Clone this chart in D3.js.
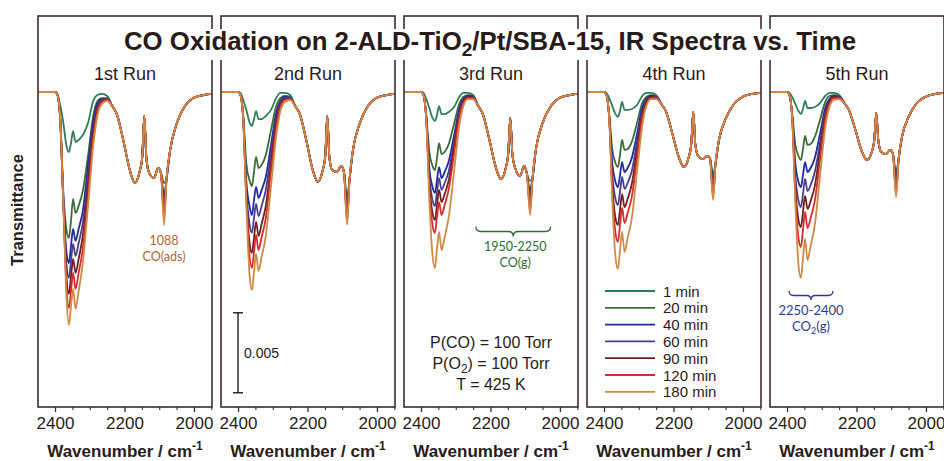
<!DOCTYPE html>
<html><head><meta charset="utf-8">
<script src="https://cdn.jsdelivr.net/npm/d3@7/dist/d3.min.js"></script>
<style>body{margin:0;background:#fff}svg{display:block}</style>
</head><body><svg id="c" width="944" height="461"></svg>
<script>
// ---------------- DATA (transmittance change, units of 1e-3) ----------------
const timeLabels = ["1 min", "20 min", "40 min", "60 min", "90 min", "120 min", "180 min"];
const runLabels = ["1st Run", "2nd Run", "3rd Run", "4th Run", "5th Run"];
const majorTicks = [2400, 2200, 2000];
const minorTicks = [2450, 2350, 2300, 2250, 2150, 2100, 2050, 1950];

// CO2(g) region wavenumbers (cm-1)
const wnCO2 = [2449, 2400, 2393, 2385, 2376, 2367, 2360, 2354, 2348, 2341, 2332, 2320, 2305, 2290, 2278, 2265, 2250];
// CO region wavenumbers shared by all times of a run
const wnCO = [2235, 2222, 2203, 2184, 2170, 2156, 2149, 2143, 2137, 2129, 2115, 2103, 2095, 2079, 2069, 2050, 2026, 2002, 1973, 1948];
// adsorbed CO band position
const wnDip = 2086;

const run1CO2 = [
  [0, 0, -0.12, -0.81, -1.94, -3.38, -3.75, -3.19, -2.44, -3.12, -3.0, -2.69, -1.94, -0.56, -0.19, -0.12, -0.25],
  [0, 0, -0.19, -1.69, -6.25, -8.62, -9.12, -8.06, -6.69, -7.56, -7.12, -6.19, -4.0, -1.5, -0.56, -0.38, -0.38],
  [0, 0, -0.19, -1.69, -6.75, -10.0, -10.69, -9.62, -8.56, -9.31, -8.56, -7.44, -4.62, -1.81, -0.75, -0.44, -0.44],
  [0, 0, -0.19, -1.69, -6.88, -10.75, -11.62, -10.56, -9.5, -10.25, -9.44, -8.19, -5.25, -2.19, -0.94, -0.5, -0.44],
  [0, 0, -0.19, -1.69, -7.0, -11.56, -12.62, -11.56, -10.44, -11.31, -10.44, -9.0, -5.88, -2.56, -1.12, -0.56, -0.5],
  [0, 0, -0.19, -1.69, -7.0, -12.19, -13.5, -12.44, -11.31, -12.31, -11.31, -9.81, -6.5, -2.94, -1.25, -0.62, -0.5],
  [0, 0, -0.19, -1.69, -7.0, -12.81, -14.56, -13.38, -12.31, -13.56, -12.44, -10.69, -7.12, -3.38, -1.5, -0.75, -0.56]
];
const run1CO = [-0.88, -1.38, -3.06, -4.94, -5.69, -4.94, -4.12, -1.5, -4.12, -5.06, -5.38, -4.75, -5.06, -5.44, -3.69, -2.0, -0.88, -0.38, -0.19, -0.12];
const run1Dip = [-5.69, -6.5, -7.0, -7.31, -7.56, -7.94, -8.31];

const run2CO2 = [
  [0, 0, -0.06, -0.5, -1.12, -1.88, -2.12, -1.69, -1.19, -1.69, -1.69, -1.5, -1.12, -0.38, -0.06, -0.06, -0.19],
  [0, 0, -0.19, -1.5, -4.5, -5.5, -5.88, -5.0, -4.06, -4.75, -4.56, -3.94, -2.38, -0.88, -0.38, -0.25, -0.31],
  [0, 0, -0.19, -1.56, -5.62, -7.12, -7.69, -6.75, -5.94, -6.62, -6.12, -5.31, -3.31, -1.31, -0.56, -0.31, -0.38],
  [0, 0, -0.19, -1.62, -6.12, -8.25, -8.81, -7.88, -7.0, -7.75, -7.12, -6.12, -3.88, -1.62, -0.69, -0.38, -0.38],
  [0, 0, -0.19, -1.69, -6.5, -9.38, -10.06, -9.12, -8.12, -9.0, -8.25, -7.12, -4.5, -1.94, -0.81, -0.44, -0.44],
  [0, 0, -0.19, -1.69, -6.75, -10.19, -11.0, -10.0, -8.94, -9.88, -9.06, -7.88, -5.0, -2.25, -0.94, -0.5, -0.44],
  [0, 0, -0.19, -1.69, -7.0, -11.38, -12.38, -11.25, -10.12, -11.19, -10.31, -9.0, -5.88, -2.75, -1.19, -0.62, -0.5]
];
const run2CO = [-0.88, -1.38, -3.06, -4.94, -5.62, -4.88, -4.06, -1.5, -4.06, -4.88, -5.0, -4.62, -5.0, -5.5, -3.62, -2.0, -0.88, -0.38, -0.19, -0.12];
const run2Dip = [-6.62, -7.0, -7.38, -7.62, -7.88, -8.12, -8.31];

const run3CO2 = [
  [0, 0, -0.06, -0.44, -1.0, -1.62, -1.81, -1.44, -0.88, -1.38, -1.38, -1.25, -0.94, -0.31, -0.06, -0.06, -0.19],
  [0, 0, -0.19, -1.44, -3.75, -4.62, -4.88, -4.12, -3.19, -3.88, -3.75, -3.25, -2.0, -0.75, -0.31, -0.19, -0.25],
  [0, 0, -0.19, -1.5, -4.75, -5.94, -6.31, -5.5, -4.69, -5.38, -5.0, -4.31, -2.75, -1.06, -0.44, -0.25, -0.31],
  [0, 0, -0.19, -1.56, -5.25, -6.75, -7.12, -6.25, -5.38, -6.12, -5.69, -4.94, -3.12, -1.25, -0.56, -0.31, -0.31],
  [0, 0, -0.19, -1.62, -5.75, -7.56, -8.0, -7.06, -6.12, -6.88, -6.38, -5.5, -3.5, -1.44, -0.62, -0.31, -0.38],
  [0, 0, -0.19, -1.62, -6.12, -8.31, -8.81, -7.81, -6.88, -7.69, -7.06, -6.06, -3.88, -1.62, -0.69, -0.38, -0.38],
  [0, 0, -0.19, -1.69, -6.75, -10.19, -11.0, -9.81, -8.75, -9.88, -9.06, -7.81, -5.0, -2.12, -0.88, -0.44, -0.44]
];
const run3CO = [-0.88, -1.38, -3.0, -4.75, -5.44, -4.75, -3.88, -1.62, -3.88, -4.75, -5.25, -4.62, -5.12, -5.38, -3.56, -1.94, -0.88, -0.38, -0.19, -0.12];
const run3Dip = [-5.56, -6.12, -6.56, -6.88, -7.12, -7.44, -7.69];

const run4CO2 = [
  [0, 0, -0.06, -0.38, -0.88, -1.38, -1.56, -1.19, -0.62, -1.12, -1.12, -1.06, -0.81, -0.25, -0.06, -0.06, -0.19],
  [0, 0, -0.19, -1.44, -3.62, -4.44, -4.69, -3.94, -3.0, -3.62, -3.56, -3.12, -1.94, -0.69, -0.31, -0.19, -0.25],
  [0, 0, -0.19, -1.5, -4.5, -5.62, -5.94, -5.19, -4.38, -5.0, -4.75, -4.12, -2.62, -1.0, -0.44, -0.25, -0.31],
  [0, 0, -0.19, -1.56, -5.19, -6.69, -7.06, -6.25, -5.31, -6.06, -5.69, -4.94, -3.12, -1.25, -0.56, -0.31, -0.31],
  [0, 0, -0.19, -1.62, -5.88, -7.88, -8.31, -7.38, -6.38, -7.19, -6.69, -5.75, -3.62, -1.44, -0.62, -0.31, -0.38],
  [0, 0, -0.19, -1.62, -6.38, -8.81, -9.38, -8.31, -7.25, -8.19, -7.56, -6.56, -4.12, -1.69, -0.75, -0.38, -0.38],
  [0, 0, -0.19, -1.69, -6.88, -10.31, -11.06, -9.88, -8.75, -10.0, -9.12, -7.88, -5.0, -2.12, -0.88, -0.44, -0.44]
];
const run4CO = [-0.75, -1.19, -2.62, -4.12, -4.69, -4.06, -3.31, -1.25, -3.31, -4.0, -4.19, -4.0, -4.12, -4.5, -3.0, -1.69, -0.75, -0.31, -0.12, -0.06];
const run4Dip = [-5.12, -5.5, -5.88, -6.12, -6.38, -6.56, -6.75];

const run5CO2 = [
  [0, 0, -0.06, -0.31, -0.75, -1.19, -1.38, -1.06, -0.56, -1.0, -1.0, -0.94, -0.69, -0.25, -0.06, -0.06, -0.19],
  [0, 0, -0.19, -1.38, -3.31, -4.0, -4.25, -3.56, -2.75, -3.31, -3.25, -2.81, -1.75, -0.62, -0.25, -0.19, -0.25],
  [0, 0, -0.19, -1.5, -4.5, -5.62, -5.94, -5.19, -4.38, -5.0, -4.75, -4.12, -2.62, -1.0, -0.44, -0.25, -0.31],
  [0, 0, -0.19, -1.56, -5.25, -6.81, -7.19, -6.38, -5.44, -6.19, -5.81, -5.0, -3.19, -1.25, -0.56, -0.31, -0.31],
  [0, 0, -0.19, -1.62, -6.0, -8.0, -8.44, -7.5, -6.5, -7.31, -6.81, -5.88, -3.69, -1.5, -0.62, -0.31, -0.38],
  [0, 0, -0.19, -1.62, -6.5, -9.12, -9.69, -8.62, -7.5, -8.5, -7.88, -6.81, -4.25, -1.75, -0.75, -0.38, -0.38],
  [0, 0, -0.19, -1.69, -7.0, -10.81, -11.62, -10.38, -9.19, -10.5, -9.62, -8.31, -5.25, -2.25, -0.94, -0.5, -0.44]
];
const run5CO = [-0.69, -1.12, -2.38, -3.75, -4.25, -3.75, -3.06, -1.31, -3.06, -3.75, -3.88, -3.62, -3.88, -4.25, -2.81, -1.56, -0.69, -0.31, -0.12, -0.06];
const run5Dip = [-5.0, -5.38, -5.69, -5.94, -6.19, -6.38, -6.56];

// scale bar (5e-3) and annotation ranges, in data units
const scaleBarRange = [-13.8, -18.8];
const coGasRange = [2242, 2027];
const co2GasRange = [2394, 2268];

// ---------------- STYLE / LAYOUT ----------------
const seriesColors = ["#2f7d57", "#3b6b36", "#1f2c9e", "#4e3d8c", "#6e1f22", "#d42c2c", "#cf8a45"];
const ink = "#2a1b1b";
const frameColor = "#3e2c2c";
const FONT = "'Liberation Sans', Arial, Helvetica, sans-serif";
const NOTE_FONT = "Lato, 'Open Sans', sans-serif";

const runs = [
  {co2: run1CO2, co: run1CO, dip: run1Dip},
  {co2: run2CO2, co: run2CO, dip: run2Dip},
  {co2: run3CO2, co: run3CO, dip: run3Dip},
  {co2: run4CO2, co: run4CO, dip: run4Dip},
  {co2: run5CO2, co: run5CO, dip: run5Dip}
];

const svg = d3.select("#c");
const panelX0 = 38, panelStep = 183, panelW = 174, yTop = 16, yBottom = 407;

const x = d3.scaleLinear().domain([2449, 1948]).range([0, panelW]);
const y = d3.scaleLinear().domain([-19.69, 4.75]).range([yBottom, yTop]);

const line = d3.line().x(d => x(d.w)).y(d => y(d.v)).curve(d3.curveMonotoneX);

const defs = svg.append("defs");

runs.forEach((run, r) => {
  const g = svg.append("g").attr("transform", `translate(${panelX0 + r * panelStep},0)`);
  defs.append("clipPath").attr("id", "clip" + r)
    .append("rect").attr("x", 0).attr("y", yTop).attr("width", panelW).attr("height", yBottom - yTop);

  const cg = g.append("g").attr("clip-path", `url(#clip${r})`);
  timeLabels.forEach((t, i) => {
    const pts = wnCO2.map((w, j) => ({w, v: run.co2[i][j]}))
      .concat(wnCO.map((w, j) => ({w, v: run.co[j]})))
      .concat([{w: wnDip, v: run.dip[i]}])
      .sort((a, b) => b.w - a.w);
    cg.append("path").attr("d", line(pts))
      .attr("fill", "none").attr("stroke", seriesColors[i])
      .attr("stroke-width", 1.8).attr("stroke-linejoin", "round");
  });

  // frame
  g.append("rect").attr("x", 0).attr("y", yTop).attr("width", panelW).attr("height", yBottom - yTop)
    .attr("fill", "none").attr("stroke", frameColor).attr("stroke-width", 1.6);

  // axes
  const ax = g.append("g").attr("transform", `translate(0,${yBottom})`)
    .call(d3.axisBottom(x).tickValues(majorTicks).tickSize(5).tickPadding(5).tickFormat(d3.format("d")));
  ax.select(".domain").remove();
  ax.selectAll("line").attr("stroke", frameColor).attr("stroke-width", 1.3);
  ax.selectAll("text").attr("font-family", FONT).attr("font-size", 17).attr("fill", ink);
  const mx = g.append("g").attr("transform", `translate(0,${yBottom})`)
    .call(d3.axisBottom(x).tickValues(minorTicks.filter(v => v <= 2449 && v >= 1948)).tickSize(3).tickFormat(""));
  mx.select(".domain").remove();
  mx.selectAll("line").attr("stroke", frameColor).attr("stroke-width", 1.1);

  // axis title
  const at = g.append("text").attr("x", panelW / 2).attr("y", 457).attr("text-anchor", "middle")
    .attr("font-family", FONT).attr("font-weight", "bold").attr("font-size", 17).attr("fill", ink);
  at.append("tspan").text("Wavenumber / cm");
  at.append("tspan").attr("dy", -7).attr("font-size", 12).text("-1");

  // run label
  g.append("text").attr("x", panelW / 2).attr("y", 80).attr("text-anchor", "middle")
    .attr("font-family", FONT).attr("font-size", 18).attr("fill", ink).text(runLabels[r]);
});

// title with white backing (interrupts frames)
const titleBack = svg.append("rect").attr("fill", "#fff");
const title = svg.append("text").attr("x", 490).attr("y", 50).attr("text-anchor", "middle")
  .attr("font-family", FONT).attr("font-weight", "bold").attr("font-size", 25.8).attr("fill", ink);
title.append("tspan").text("CO Oxidation on 2-ALD-TiO");
title.append("tspan").attr("dy", 6).attr("font-size", 19).text("2");
title.append("tspan").attr("dy", -6).text("/Pt/SBA-15, IR Spectra vs. Time");
const tb = title.node().getBBox();
titleBack.attr("x", tb.x - 2).attr("y", tb.y + 2).attr("width", tb.width + 4).attr("height", tb.height - 2);

// y label
svg.append("text").attr("transform", "translate(23,210) rotate(-90)").attr("text-anchor", "middle")
  .attr("font-family", FONT).attr("font-weight", "bold").attr("font-size", 16.5).attr("fill", ink).text("Transmittance");

// panel 1 annotation
const p1 = panelX0;
svg.append("text").attr("x", p1 + x(2086)).attr("y", 245).attr("text-anchor", "middle")
  .attr("font-family", NOTE_FONT).attr("font-size", 12.5).attr("fill", "#b0652e").text("1088");
svg.append("text").attr("x", p1 + x(2086)).attr("y", 261).attr("text-anchor", "middle")
  .attr("font-family", NOTE_FONT).attr("font-size", 12.5).attr("fill", "#b0652e").text("CO(ads)");

// panel 2 scale bar
const p2 = panelX0 + panelStep;
const sbx = p2 + x(2400);
svg.append("line").attr("x1", sbx).attr("x2", sbx).attr("y1", y(scaleBarRange[0])).attr("y2", y(scaleBarRange[1]))
  .attr("stroke", ink).attr("stroke-width", 1.4);
scaleBarRange.forEach(v => svg.append("line").attr("x1", sbx - 5).attr("x2", sbx + 5).attr("y1", y(v)).attr("y2", y(v))
  .attr("stroke", ink).attr("stroke-width", 1.4));
svg.append("text").attr("x", sbx + 6).attr("y", (y(scaleBarRange[0]) + y(scaleBarRange[1])) / 2 + 5)
  .attr("font-family", FONT).attr("font-size", 14).attr("fill", ink).text("0.005");

// brace helper (tip pointing down)
function brace(x1, x2, yy, h, color) {
  const xm = (x1 + x2) / 2;
  const p = `M${x1},${yy - h} Q${x1},${yy} ${x1 + h},${yy} L${xm - h},${yy} Q${xm},${yy} ${xm},${yy + h} Q${xm},${yy} ${xm + h},${yy} L${x2 - h},${yy} Q${x2},${yy} ${x2},${yy - h}`;
  svg.append("path").attr("d", p).attr("fill", "none").attr("stroke", color).attr("stroke-width", 1.3);
}

// panel 3 annotations
const p3 = panelX0 + 2 * panelStep;
const cgx1 = p3 + x(coGasRange[0]), cgx2 = p3 + x(coGasRange[1]);
brace(cgx1, cgx2, 231.5, 5, "#2f6b32");
svg.append("text").attr("x", (cgx1 + cgx2) / 2 + 2).attr("y", 251).attr("text-anchor", "middle")
  .attr("font-family", NOTE_FONT).attr("font-size", 12.5).attr("fill", "#2f6b32").text("1950-2250");
svg.append("text").attr("x", (cgx1 + cgx2) / 2 + 2).attr("y", 267).attr("text-anchor", "middle")
  .attr("font-family", NOTE_FONT).attr("font-size", 12.5).attr("fill", "#2f6b32").text("CO(g)");

const cond = [["P(CO) = 100 Torr"], ["P(O", "2", ") = 100 Torr"], ["T = 425 K"]];
const condY = [348, 369, 390];
cond.forEach((parts, i) => {
  const t = svg.append("text").attr("x", p3 + panelW / 2).attr("y", condY[i]).attr("text-anchor", "middle")
    .attr("font-family", FONT).attr("font-size", 16).attr("fill", ink);
  if (parts.length === 1) t.text(parts[0]);
  else {
    t.append("tspan").text(parts[0]);
    t.append("tspan").attr("dy", 4).attr("font-size", 12).text(parts[1]);
    t.append("tspan").attr("dy", -4).text(parts[2]);
  }
});

// panel 4 legend
const p4 = panelX0 + 3 * panelStep;
timeLabels.forEach((t, i) => {
  const ly = 291 + i * 16.8;
  svg.append("line").attr("x1", p4 + 18).attr("x2", p4 + 68).attr("y1", ly).attr("y2", ly)
    .attr("stroke", seriesColors[i]).attr("stroke-width", 1.8);
  svg.append("text").attr("x", p4 + 76).attr("y", ly + 5.5)
    .attr("font-family", FONT).attr("font-size", 15).attr("fill", ink).text(t);
});

// panel 5 annotation
const p5 = panelX0 + 4 * panelStep;
const c2x1 = p5 + x(co2GasRange[0]), c2x2 = p5 + x(co2GasRange[1]);
brace(c2x1, c2x2, 295.5, 4.5, "#2b3a9a");
svg.append("text").attr("x", (c2x1 + c2x2) / 2).attr("y", 315).attr("text-anchor", "middle")
  .attr("font-family", NOTE_FONT).attr("font-size", 13).attr("fill", "#2b3a9a").text("2250-2400");
const co2t = svg.append("text").attr("x", (c2x1 + c2x2) / 2).attr("y", 331).attr("text-anchor", "middle")
  .attr("font-family", NOTE_FONT).attr("font-size", 13).attr("fill", "#2b3a9a");
co2t.append("tspan").text("CO");
co2t.append("tspan").attr("dy", 3).attr("font-size", 9).text("2");
co2t.append("tspan").attr("dy", -3).text("(g)");
</script></body></html>
